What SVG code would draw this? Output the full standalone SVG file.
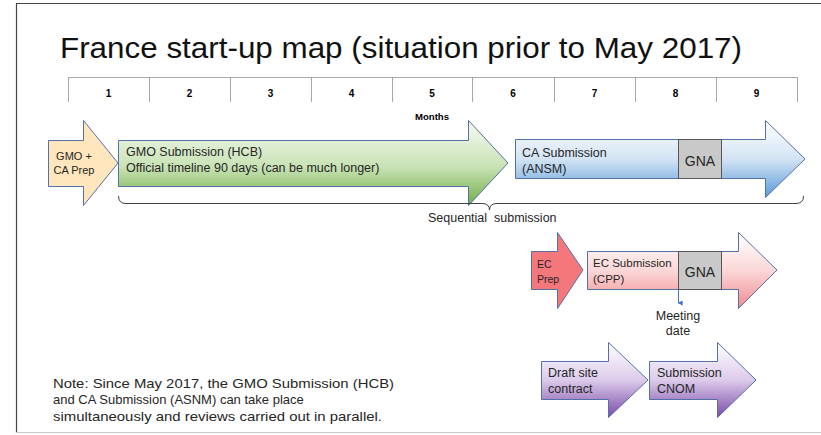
<svg xmlns="http://www.w3.org/2000/svg" width="821" height="435" viewBox="0 0 821 435">
<style>
text{font-family:"Liberation Sans",Arial,sans-serif;fill:#262626}
.t{font-size:12.5px}
.s{font-size:11px}
.b{font-weight:bold;font-size:10px;text-anchor:middle;fill:#000}
.arr{stroke:#5470A8;stroke-width:1}
.gna{fill:#C9C9C9;stroke:#555;stroke-width:1}
.tick{stroke:#A6A6A6;stroke-width:1;fill:none}
.n{font-size:13px}
</style>
<defs>
<linearGradient id="gGreen" x1="0" y1="0" x2="0" y2="1"><stop offset="0" stop-color="#F7FBF3"/><stop offset="0.55" stop-color="#C8E2B4"/><stop offset="1" stop-color="#6FAE45"/></linearGradient>
<linearGradient id="gBlue" x1="0" y1="0" x2="0" y2="1"><stop offset="0" stop-color="#FFFFFF"/><stop offset="0.5" stop-color="#D3E4F5"/><stop offset="1" stop-color="#5A9AD8"/></linearGradient>
<linearGradient id="gPink" x1="0" y1="0" x2="0" y2="1"><stop offset="0" stop-color="#FFFFFF"/><stop offset="0.5" stop-color="#FBD7D8"/><stop offset="1" stop-color="#F08A8E"/></linearGradient>
<linearGradient id="gPurple" x1="0" y1="0" x2="0" y2="1"><stop offset="0" stop-color="#FFFFFF"/><stop offset="0.5" stop-color="#DCCBEA"/><stop offset="1" stop-color="#7A48A8"/></linearGradient>
<marker id="ah" viewBox="0 0 6 6" refX="3" refY="5" markerWidth="5" markerHeight="5" orient="auto-start-reverse" markerUnits="userSpaceOnUse"><path d="M0,0 L6,0 L3,6 Z" fill="#4472C4"/></marker>
</defs>
<rect x="0" y="0" width="821" height="435" fill="#FFFFFF"/>
<g id="frame">
<line x1="16.5" y1="3" x2="16.5" y2="433" stroke="#444" stroke-width="1.2"/>
<line x1="16" y1="3.5" x2="821" y2="3.5" stroke="#444" stroke-width="1.2"/>
<line x1="16" y1="432.5" x2="821" y2="432.5" stroke="#C8C8C8" stroke-width="1"/>
</g>
<text id="title" x="60" y="58" font-size="30" textLength="682" lengthAdjust="spacingAndGlyphs" style="fill:#111">France start-up map (situation prior to May 2017)</text>
<g id="timeline">
<path class="tick" d="M68.5,77.5 H797.5 M68.5,77 V102 M149.5,77 V102 M230.5,77 V102 M311.5,77 V102 M392.5,77 V102 M472.5,77 V102 M554.5,77 V102 M635.5,77 V102 M716.5,77 V102 M797.5,77 V102"/>
<text class="b" x="108.5" y="97">1</text>
<text class="b" x="189.5" y="97">2</text>
<text class="b" x="270.5" y="97">3</text>
<text class="b" x="351.5" y="97">4</text>
<text class="b" x="432" y="97">5</text>
<text class="b" x="513" y="97">6</text>
<text class="b" x="594.5" y="97">7</text>
<text class="b" x="675.5" y="97">8</text>
<text class="b" x="756.5" y="97">9</text>
<text x="415" y="120" font-size="8.5" font-weight="bold" textLength="34" lengthAdjust="spacingAndGlyphs" style="fill:#000">Months</text>
</g>
<g id="gmo-prep">
<path class="arr" fill="#FFE6BC" d="M48.5,140.5 H83.5 V120.5 L118,163 L83.5,205.5 V186.5 H48.5 Z"/>
<text class="s" x="74" y="160" text-anchor="middle">GMO +</text>
<text class="s" x="74" y="174" text-anchor="middle">CA Prep</text>
</g>
<g id="gmo-submission">
<path class="arr" fill="url(#gGreen)" d="M118.5,140.5 H468.5 V120.5 L508,163 L468.5,205.5 V186.5 H118.5 Z"/>
<text class="t" x="126" y="156">GMO Submission (HCB)</text>
<text class="t" x="126" y="172">Official timeline 90 days (can be much longer)</text>
</g>
<g id="ca-submission">
<path class="arr" fill="url(#gBlue)" d="M515.5,139.5 H765.5 V120.5 L805,159 L765.5,197.5 V178.5 H515.5 Z"/>
<rect class="gna" x="678.5" y="139.5" width="43" height="39"/>
<text class="t" x="522" y="157">CA Submission</text>
<text class="t" x="522" y="173">(ANSM)</text>
<text x="700" y="166" font-size="14" text-anchor="middle">GNA</text>
</g>
<g id="connectors">
<path d="M118.5,196 Q118.5,203.5 126,203.5 H482 Q489.5,203.5 489.5,210 Q489.5,203.5 497,203.5 H796 Q803.5,203.5 803.5,196" fill="none" stroke="#404040" stroke-width="1"/>
<line x1="678.5" y1="289" x2="678.5" y2="303" stroke="#4472C4" stroke-width="1" marker-end="url(#ah)"/>
</g>
<text x="428" y="222" font-size="12.5" xml:space="preserve">Sequential  submission</text>
<g id="ec-prep">
<path class="arr" fill="#F4777C" d="M531.5,251.5 H557.5 V232.5 L583,270 L557.5,308.5 V289.5 H531.5 Z"/>
<text x="537" y="268" font-size="10.5">EC</text>
<text x="537" y="283" font-size="10.5">Prep</text>
</g>
<g id="ec-submission">
<path class="arr" fill="url(#gPink)" d="M587.5,251.5 H738.5 V232.5 L777,270 L738.5,308.5 V289.5 H587.5 Z"/>
<rect class="gna" x="678.5" y="251.5" width="43" height="38"/>
<text x="593" y="267" style="font-size:11.5px">EC Submission</text>
<text x="593" y="283" style="font-size:11.5px">(CPP)</text>
<text x="700" y="277" font-size="14" text-anchor="middle">GNA</text>
</g>
<g id="meeting-date">
<text class="t" x="678" y="320" text-anchor="middle">Meeting</text>
<text class="t" x="678" y="335" text-anchor="middle">date</text>
</g>
<g id="draft-site-contract">
<path class="arr" fill="url(#gPurple)" d="M541.5,361.5 H608.5 V342.5 L648,380 L608.5,417.5 V399.5 H541.5 Z"/>
<text class="t" x="548" y="377">Draft site</text>
<text class="t" x="548" y="393">contract</text>
</g>
<g id="submission-cnom">
<path class="arr" fill="url(#gPurple)" d="M649.5,361.5 H717.5 V342.5 L756,380 L717.5,417.5 V399.5 H649.5 Z"/>
<text class="t" x="657" y="377">Submission</text>
<text class="t" x="657" y="393">CNOM</text>
</g>
<g id="note">
<text class="n" x="53" y="388" textLength="341" lengthAdjust="spacingAndGlyphs">Note: Since May 2017, the GMO Submission (HCB)</text>
<text class="n" x="53" y="404">and CA Submission (ASNM) can take place</text>
<text class="n" x="53" y="421" textLength="329" lengthAdjust="spacingAndGlyphs">simultaneously and reviews carried out in parallel.</text>
</g>
</svg>
